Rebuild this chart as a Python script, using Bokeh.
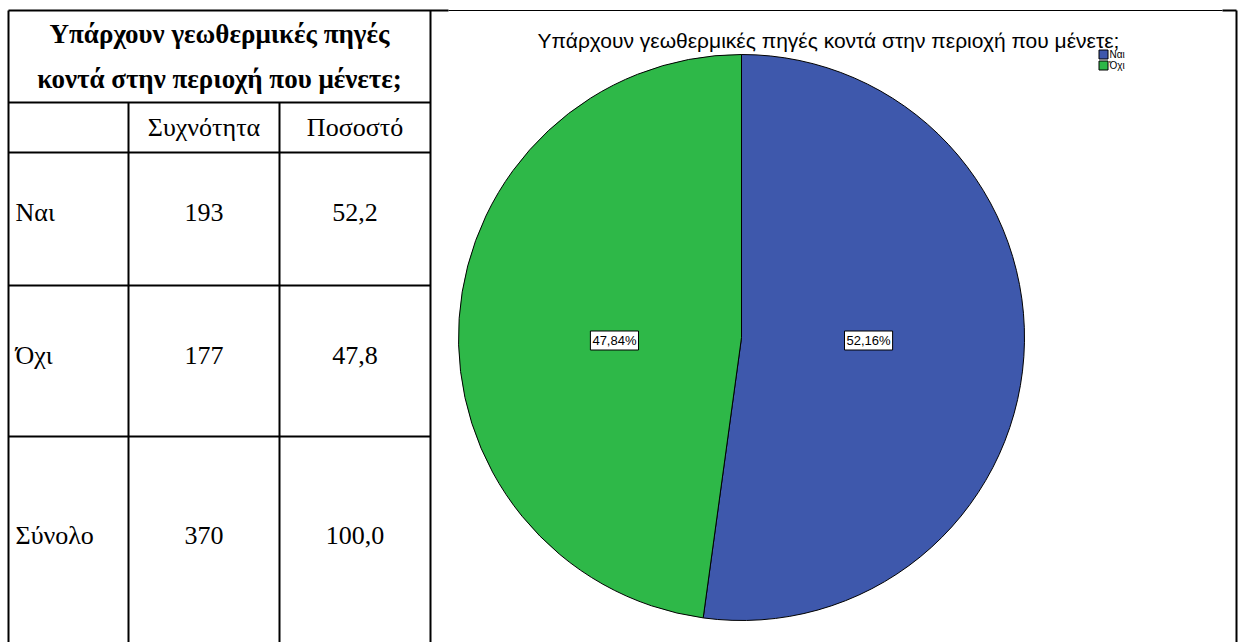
import math
from bokeh.plotting import figure
from bokeh.models import Range1d, ColumnDataSource
from bokeh.core.properties import value
from bokeh.embed import file_html
from bokeh.resources import INLINE

# ---- data ----
question = "Υπάρχουν γεωθερμικές πηγές κοντά στην περιοχή που μένετε;"
header_lines = ["Υπάρχουν γεωθερμικές πηγές", "κοντά στην περιοχή που μένετε;"]
col_headers = ["Συχνότητα", "Ποσοστό"]
categories = ["Ναι", "Όχι"]
counts = [193, 177]
total_label = "Σύνολο"
colors = ["#3E58AC", "#2EB848"]

W, H = 1245, 642
p = figure(width=W, height=H, output_backend="svg", toolbar_location=None,
           x_range=Range1d(0, W), y_range=Range1d(0, H), min_border=0)
p.axis.visible = False
p.grid.visible = False
p.outline_line_color = None
p.background_fill_color = "white"


def X(px):
    return px


def Y(py):
    return H - py


SERIF = value("Times New Roman, serif")
SANS = value("Arial, Liberation Sans, sans-serif")

# ---- table grid ----
thick = 2
segs = [
    (8, 10, 448, 10, thick),
    (448, 10, 1222, 10, 1),
    (1222, 10, 1236, 10, thick),
    (8, 102, 430, 102, thick),
    (8, 152, 430, 152, thick),
    (8, 285, 430, 285, thick),
    (8, 436, 430, 436, thick),
    (8, 10, 8, 642, thick),
    (430, 10, 430, 642, thick),
    (128, 102, 128, 642, thick),
    (279, 102, 279, 642, thick),
    (1236, 10, 1236, 642, thick),
]
for x0, y0, x1, y1, w in segs:
    p.segment(x0=[X(x0)], y0=[Y(y0)], x1=[X(x1)], y1=[Y(y1)],
              line_color="black", line_width=w)

# ---- table text ----
total = sum(counts)
pct_tbl = [f"{c / total * 100:.1f}".replace(".", ",") for c in counts]
row_labels = categories + [total_label]
row_counts = [str(c) for c in counts] + [str(total)]
row_pcts = pct_tbl + [f"{100:.1f}".replace(".", ",")]

FS = "26px"
col_cx = [(128 + 279) / 2, (279 + 430) / 2]
p.text(x=[X(219)] * 2, y=[Y(33), Y(78)], text=header_lines,
       text_font=SERIF, text_font_style="bold", text_font_size="27px",
       text_align="center", text_baseline="middle", text_color="black")
p.text(x=[X(c) for c in col_cx], y=[Y(127)] * 2, text=col_headers,
       text_font=SERIF, text_font_size=FS,
       text_align="center", text_baseline="middle", text_color="black")
row_y = [212, 355, 535]
p.text(x=[X(15)] * 3, y=[Y(v) for v in row_y], text=row_labels,
       text_font=SERIF, text_font_size=FS,
       text_align="left", text_baseline="middle", text_color="black")
p.text(x=[X(col_cx[0])] * 3, y=[Y(v) for v in row_y], text=row_counts,
       text_font=SERIF, text_font_size=FS,
       text_align="center", text_baseline="middle", text_color="black")
p.text(x=[X(col_cx[1])] * 3, y=[Y(v) for v in row_y], text=row_pcts,
       text_font=SERIF, text_font_size=FS,
       text_align="center", text_baseline="middle", text_color="black")

# ---- pie ----
cx, cy, r = X(741), Y(337), 283
fracs = [c / total for c in counts]
starts, ends, mids = [], [], []
a = math.pi / 2  # start at 12 o'clock, go clockwise
for f in fracs:
    sweep = 2 * math.pi * f
    starts.append(a - sweep)
    ends.append(a)
    mids.append(a - sweep / 2)
    a -= sweep
src = ColumnDataSource(dict(start=starts, end=ends, color=colors,
                            lab=[f"{f * 100:.2f}%".replace(".", ",") for f in fracs],
                            lx=[cx + 0.45 * r * math.cos(m) for m in mids],
                            ly=[cy - 3 for m in mids]))
p.wedge(x=cx, y=cy, radius=r, start_angle="start", end_angle="end",
        fill_color="color", line_color="black", line_width=1, source=src)
p.text(x="lx", y="ly", text="lab", source=src,
       text_font=SANS, text_font_size="13px", text_color="black",
       text_align="center", text_baseline="middle",
       background_fill_color="white", border_line_color="black",
       border_line_width=1, padding=2)

# ---- chart title ----
p.text(x=[X(828)], y=[Y(40)], text=[question], text_font=SANS,
       text_font_size="21px",
       text_align="center", text_baseline="middle", text_color="black")

# ---- legend ----
leg_y = [54, 65]
p.rect(x=[X(1103)] * 2, y=[Y(v) for v in leg_y], width=9, height=9,
       fill_color=colors, line_color="black", line_width=1)
p.text(x=[X(1109)] * 2, y=[Y(v) for v in leg_y], text=categories,
       text_font=SANS, text_font_size="10px",
       text_align="left", text_baseline="middle", text_color="black")

open("out.html", "w").write(file_html(p, INLINE))
